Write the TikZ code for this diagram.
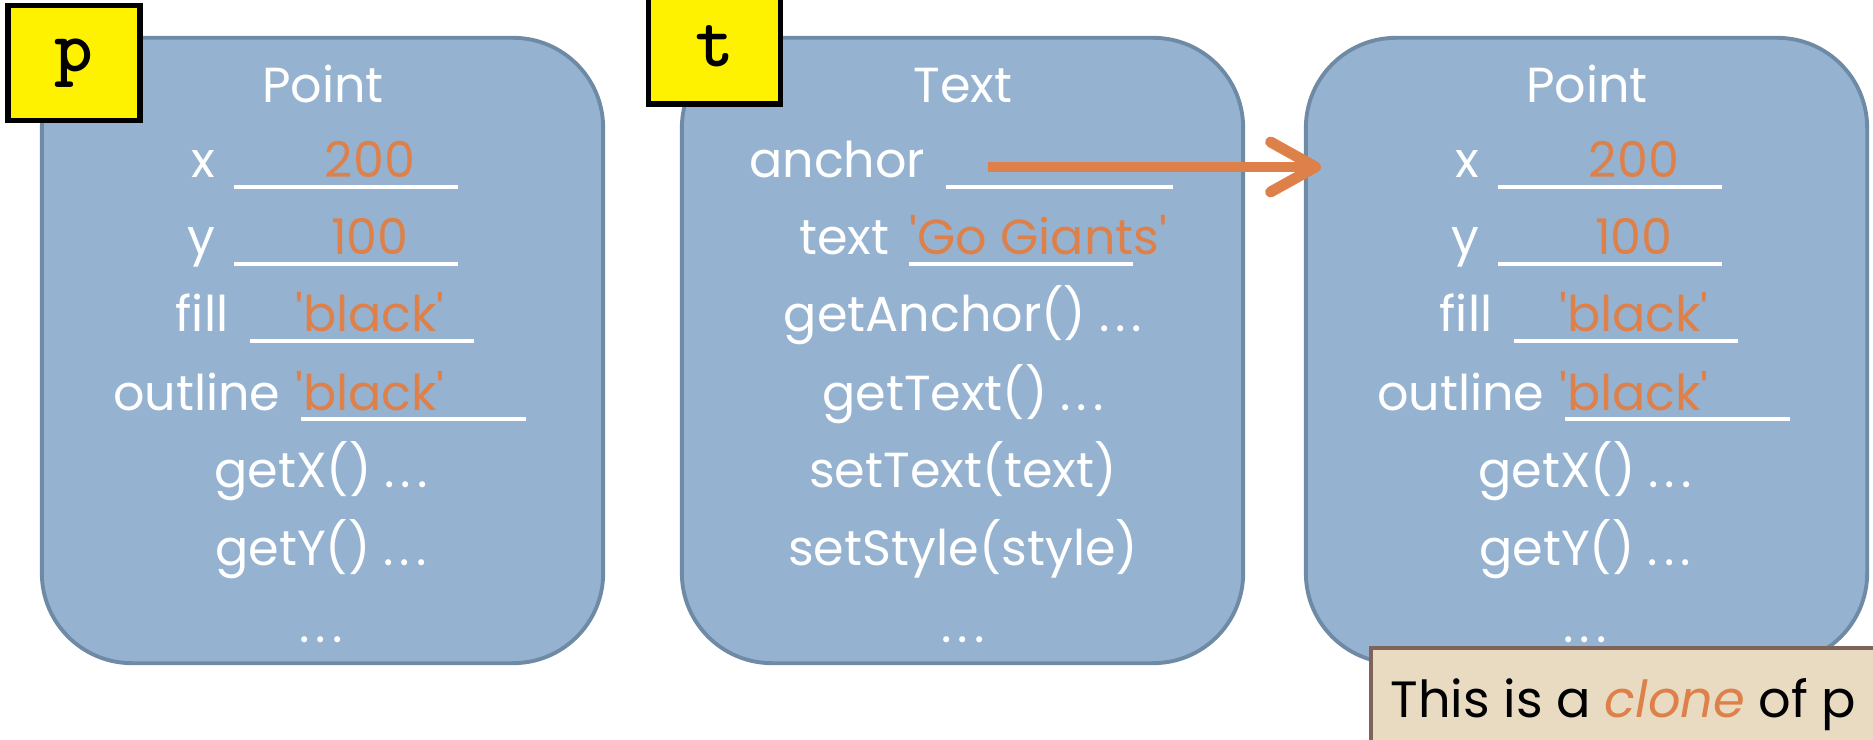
\documentclass[tikz,border=0pt]{standalone}
\usepackage{fontspec}
\setmainfont{Poppins}
\usetikzlibrary{arrows.meta}

\definecolor{boxblue}{HTML}{95B3D1}
\definecolor{boxedge}{HTML}{6E8AA5}
\definecolor{valorange}{HTML}{DE8049}
\definecolor{notefill}{HTML}{E8DBC2}
\definecolor{noteedge}{HTML}{7D6358}

\newcommand{\strq}{\textquotesingle}
\newcommand{\dotsgap}{.\hspace{0.12em}.\hspace{0.12em}.}

\tikzset{
    objbox/.style={draw=boxedge, fill=boxblue, line width=1.1pt, rounded corners=0.9cm, minimum width=5.61cm, minimum height=6.25cm},
    varbox/.style={draw=black, fill=yellow, line width=1.5pt, minimum width=1.32cm, minimum height=1.15cm, font=\ttfamily\bfseries\fontsize{21}{21}\selectfont},
    notebox/.style={draw=noteedge, fill=notefill, line width=1.1pt, minimum width=6cm, minimum height=1.5cm, anchor=north west},
    field/.style={text=white, inner sep=0pt, font=\fontsize{14}{16}\selectfont},
    value/.style={text=valorange, inner sep=0pt, font=\fontsize{14}{16}\selectfont},
    blank/.style={draw=white, line width=1pt},
    ref/.style={draw=valorange, line width=3.1pt, -{Straight Barb[length=4.5mm, width=5mm, round]}}
}

\begin{document}
\begin{tikzpicture}[x=0.01cm, y=-0.01cm]
    \useasboundingbox (0,0) rectangle (1873,740);

    % Objects
    \node[objbox] (pointObj) at (322.5,350.5) {};
    \node[objbox] (textObj) at (962.5,350.5) {};
    \node[objbox] (cloneObj) at (1586.5,350.5) {};

    % Variables
    \node[varbox] (pVar) at (74,63) {p};
    \node[varbox] (tVar) at (714.5,46.5) {t};

    % Point and its clone
    \foreach \dx/\obj in {0/point, 1264/clone} {
        \node[field, anchor=base] (\obj Name) at (323+\dx,103) {Point};
        \foreach \lbl/\val/\y/\lx/\ua/\ub in {x/200/178/216/234/458, y/100/255/216/234/458, fill/\strq black\strq/332/229/250/474, outline/\strq black\strq/410/281/301/526} {
            \node[field, anchor=base east] (\obj\lbl) at (\lx+\dx,\y) {\lbl};
            \draw[blank] (\ua+\dx,\y+9) -- (\ub+\dx,\y+9);
            \node[value, anchor=base] (\obj\lbl Val) at (370+\dx,\y) {\val};
        }
        \foreach \mth/\txt/\y in {getX/getX() \dotsgap/488, getY/getY() \dotsgap/565, more/\dotsgap/642}
            \node[field, anchor=base] (\obj\mth) at (321+\dx,\y) {\txt};
    }

    % Text
    \node[field, anchor=base] (textName) at (963,103) {Text};
    \node[field, anchor=base east] (textanchor) at (926,178) {anchor};
    \draw[blank] (946,187) -- (1173,187);
    \node[field, anchor=base east] (texttext) at (890,255) {text};
    \draw[blank] (909,264) -- (1133,264);
    \node[value, anchor=base west] (texttextVal) at (909,255) {\strq Go Giants\strq};
    \foreach \mth/\txt/\y in {getAnchor/getAnchor() \dotsgap/332, getText/getText() \dotsgap/410, setText/setText(text)/488, setStyle/setStyle(style)/565, more/\dotsgap/642}
        \node[field, anchor=base] (text\mth) at (963,\y) {\txt};

    % Reference
    \coordinate (anchorRef) at (988,167);
    \coordinate (cloneRef) at (1321,167);
    \draw[ref] (anchorRef) -- (cloneRef);

    % Note
    \node[notebox] (cloneNote) at (1369,646) {};
    \node[anchor=base west, inner sep=0pt, font=\fontsize{14.5}{16}\selectfont] (noteText) at (1390,717) {This is a \textcolor{valorange}{\itshape clone} of p};
\end{tikzpicture}
\end{document}
